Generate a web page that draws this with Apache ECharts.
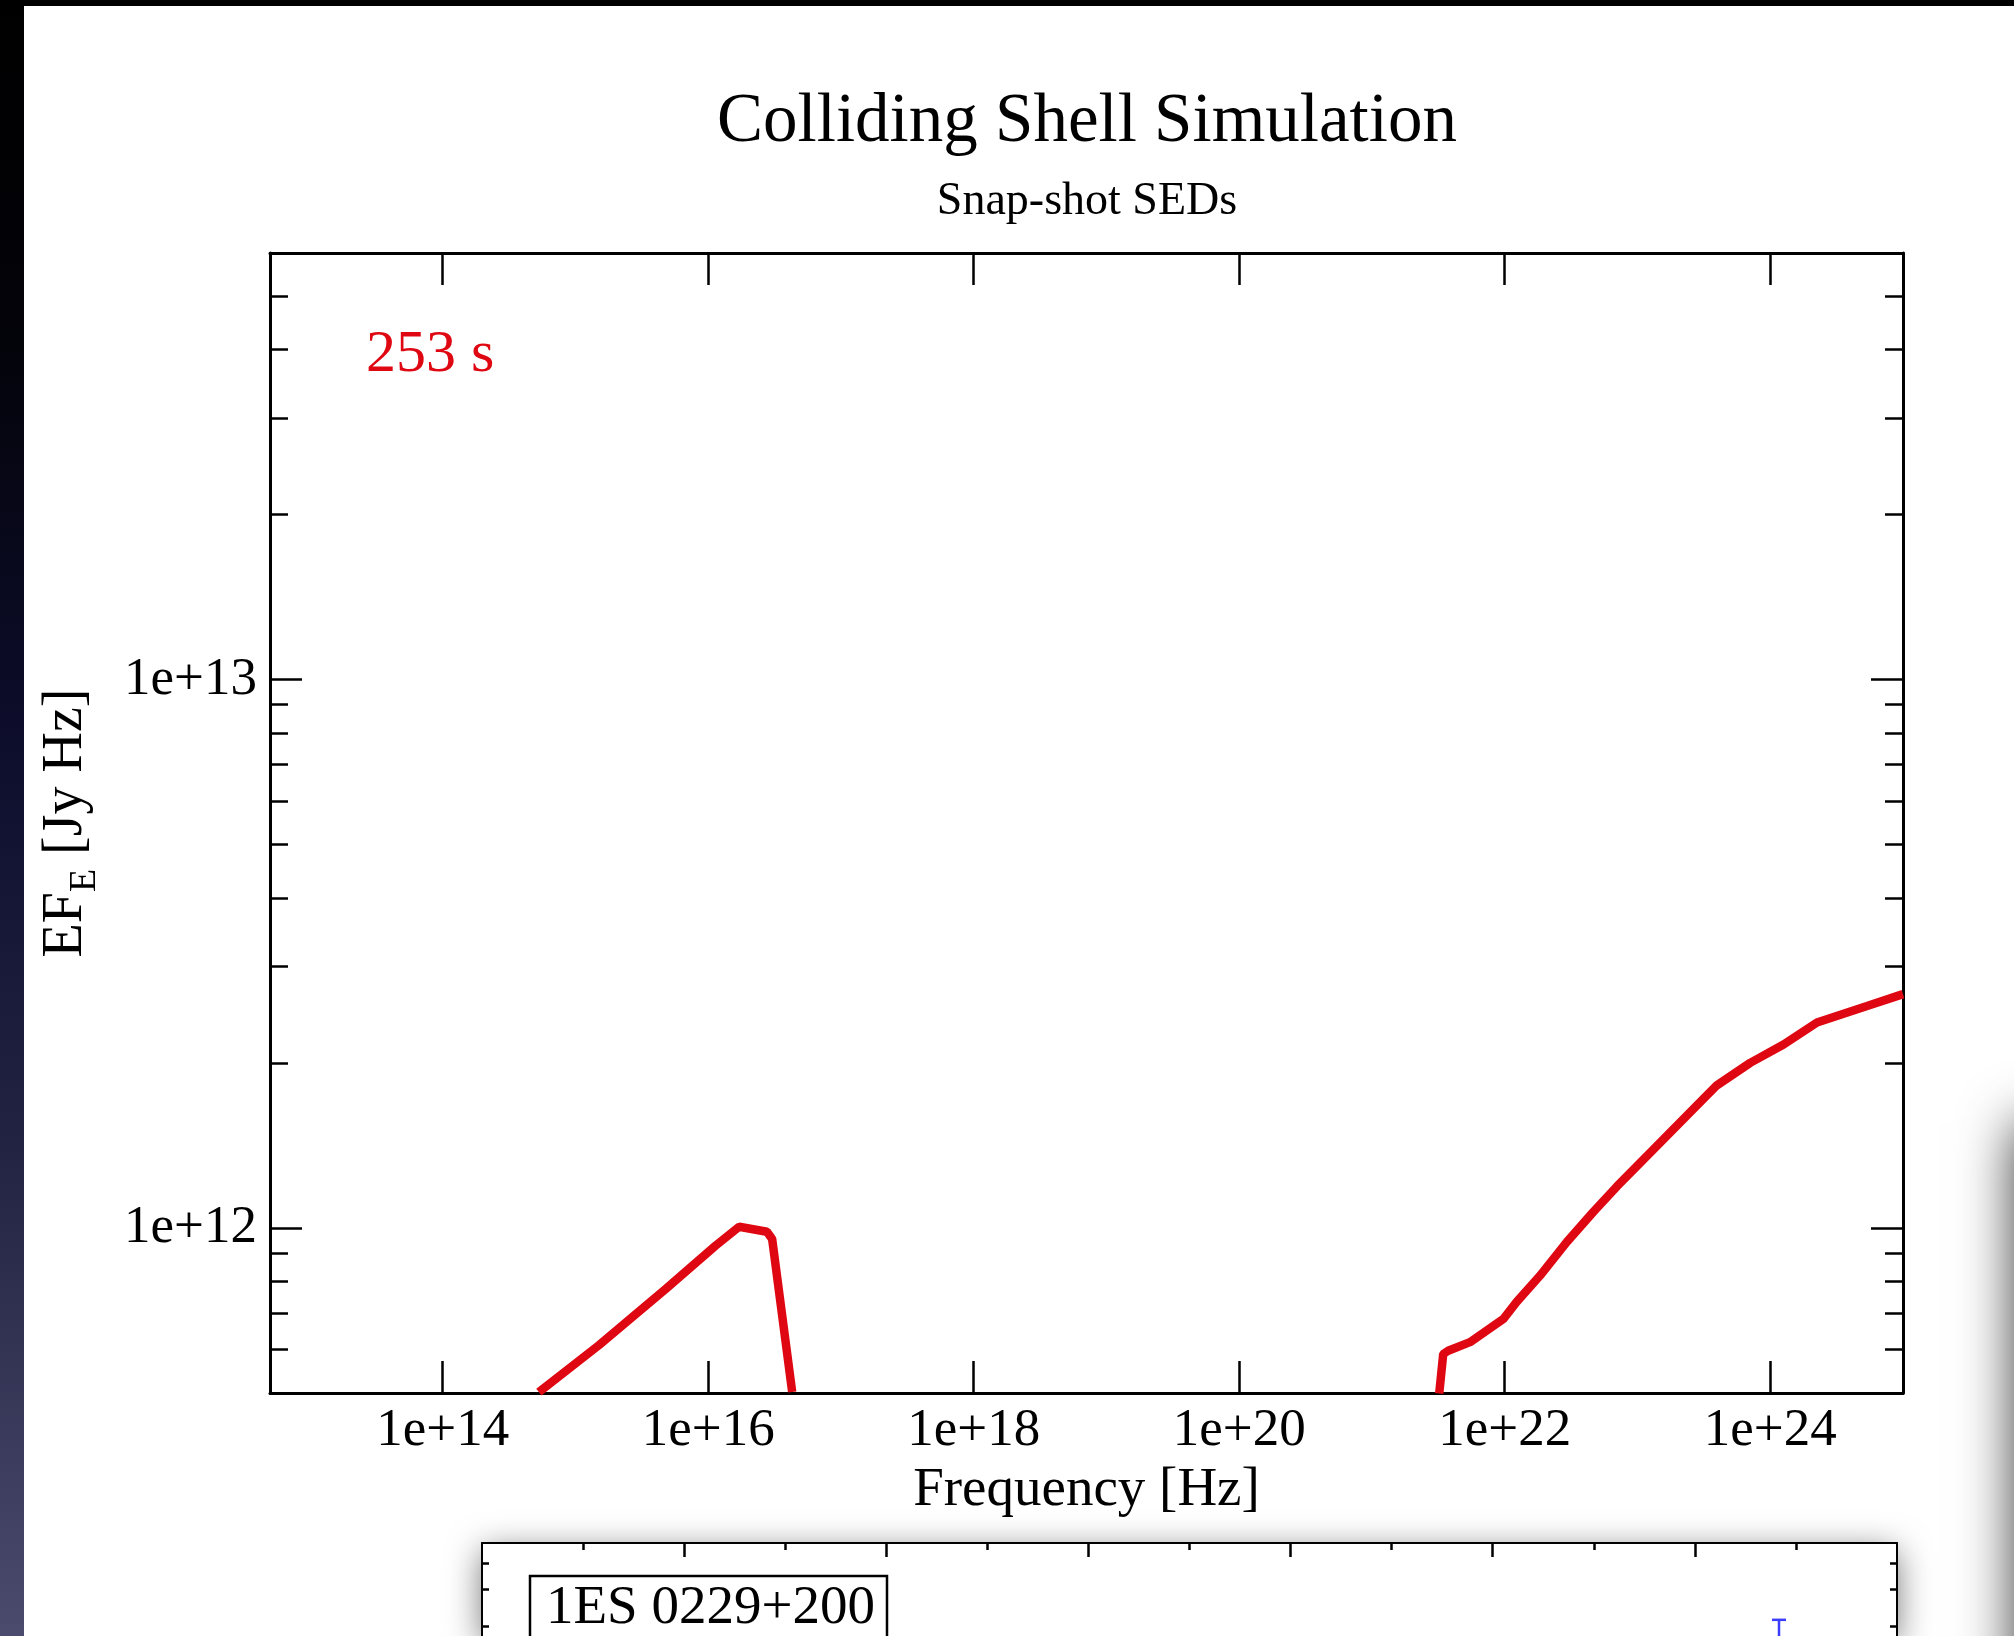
<!DOCTYPE html>
<html>
<head>
<meta charset="utf-8">
<script src="https://cdn.jsdelivr.net/npm/echarts@6/dist/echarts.min.js"></script>
<style>
html,body{margin:0;padding:0;background:#ffffff;}
#c{width:2014px;height:1636px;}
</style>
</head>
<body>
<div id="c"></div>
<script>
// ---- data (frequency in Hz, flux EF_E in Jy Hz) ----
const synFreq = [5.30e14, 1.50e15, 4.78e15, 1.14e16, 1.71e16, 2.77e16, 3.03e16, 4.29e16];
const synFlux = [5.02e11, 6.11e11, 7.74e11, 9.29e11, 1.005e12, 9.84e11, 9.55e11, 5.02e11];
const icFreq = [3.21e21, 3.44e21, 3.75e21, 5.47e21, 9.75e21, 1.23e22, 1.84e22, 2.93e22, 4.65e22, 6.98e22,
                1.24e23, 2.22e23, 3.96e23, 7.06e23, 1.26e24, 2.25e24, 5.36e24, 1.0e25];
const icFlux = [4.99e11, 5.89e11, 5.97e11, 6.19e11, 6.82e11, 7.33e11, 8.18e11, 9.42e11, 1.07e12, 1.19e12,
                1.37e12, 1.58e12, 1.82e12, 2.00e12, 2.16e12, 2.37e12, 2.54e12, 2.67e12];

// axis ranges and ticks (main panel)
const xRange = [5e12, 1e25];
const yRange = [5e11, 6e13];
const xMajor = [1e14, 1e16, 1e18, 1e20, 1e22, 1e24];
const xTickLabels = ['1e+14', '1e+16', '1e+18', '1e+20', '1e+22', '1e+24'];
const yMajor = [1e12, 1e13];
const yTickLabels = ['1e+12', '1e+13'];
const yMinor = [6e11, 7e11, 8e11, 9e11, 2e12, 3e12, 4e12, 5e12, 6e12, 7e12, 8e12, 9e12, 2e13, 3e13, 4e13, 5e13];

// second (partially visible) panel "1ES 0229+200" - only its top strip is in view
const p2xRange = [1e10, 1e24];
const p2xMajor = [1e12, 1e14, 1e16, 1e18, 1e20, 1e22];
const p2xMinor = [1e11, 1e13, 1e15, 1e17, 1e19, 1e21, 1e23];
const p2yRange = [1.79e-11, 5e-11];
const p2yTicks = [4e-11, 3e-11, 2e-11];
const ulFreq = [6.8e22];
const ulHigh = [2.14e-11];
const ulLow = [6.0e-12];

const L = Math.log10;
const FONT = 'Liberation Serif';
const RED = '#df0812';

const toPts = (xs, ys) => xs.map((x, i) => [L(x), L(ys[i])]);
const lbl = (ticks, labels) => v => {
  const i = ticks.findIndex(t => Math.abs(L(t) - v) < 1e-6);
  return i >= 0 ? labels[i] : '';
};

const chart = echarts.init(document.getElementById('c'), null, {renderer: 'canvas'});

const baseAxis = {
  type: 'value',
  splitLine: {show: false},
  axisLine: {show: true, onZero: false, lineStyle: {color: '#000', width: 3}},
  axisLabel: {show: false},
  axisTick: {show: true, inside: true, length: 32, lineStyle: {color: '#000', width: 2.5}}
};
function ax(extra) { return echarts.util.merge(echarts.util.clone(baseAxis), extra, true); }

const option = {
  animation: false,
  backgroundColor: '#ffffff',
  title: [
    {text: 'Colliding Shell Simulation', subtext: 'Snap-shot SEDs', left: 1087, top: 88, textAlign: 'center',
     padding: 0, itemGap: 22,
     textStyle: {fontFamily: FONT, fontSize: 69, fontWeight: 'normal', color: '#000'},
     subtextStyle: {fontFamily: FONT, fontSize: 46, color: '#000'}}
  ],
  grid: [
    {left: 270, top: 253, width: 1633, height: 1140, containLabel: false},
    {left: 482, top: 1543, width: 1415, height: 93, show: true, backgroundColor: '#ffffff', borderWidth: 0,
     shadowBlur: 34, shadowColor: 'rgba(0,0,0,0.55)', shadowOffsetY: 8}
  ],
  xAxis: [
    ax({gridIndex: 0, position: 'bottom', min: L(xRange[0]), max: L(xRange[1]),
        name: 'Frequency [Hz]', nameLocation: 'middle', nameGap: 66,
        nameTextStyle: {fontFamily: FONT, fontSize: 55, color: '#000'},
        axisTick: {customValues: xMajor.map(L)},
        axisLabel: {show: true, customValues: xMajor.map(L), formatter: lbl(xMajor, xTickLabels),
                    margin: 12, fontFamily: FONT, fontSize: 53, color: '#000'}}),
    ax({gridIndex: 0, position: 'top', min: L(xRange[0]), max: L(xRange[1]),
        axisTick: {customValues: xMajor.map(L)}}),
    ax({gridIndex: 1, position: 'top', min: L(p2xRange[0]), max: L(p2xRange[1]),
        axisLine: {lineStyle: {width: 2}},
        axisTick: {customValues: p2xMajor.map(L), length: 14, lineStyle: {width: 2.5}}}),
    ax({gridIndex: 1, position: 'top', min: L(p2xRange[0]), max: L(p2xRange[1]),
        axisLine: {show: false},
        axisTick: {customValues: p2xMinor.map(L), length: 7, lineStyle: {width: 2.5}}})
  ],
  yAxis: [
    ax({gridIndex: 0, position: 'left', min: L(yRange[0]), max: L(yRange[1]),
        name: '{a|EF}{b|E}{a| [Jy Hz]}', nameLocation: 'middle', nameGap: 172,
        nameTextStyle: {rich: {
          a: {fontFamily: FONT, fontSize: 56, color: '#000', lineHeight: 60, verticalAlign: 'top'},
          b: {fontFamily: FONT, fontSize: 38, color: '#000', lineHeight: 40, padding: [28, 0, 0, 0], verticalAlign: 'top'}
        }},
        axisTick: {customValues: yMajor.map(L)},
        axisLabel: {show: true, customValues: yMajor.map(L), formatter: lbl(yMajor, yTickLabels),
                    margin: 13, fontFamily: FONT, fontSize: 53, color: '#000'}}),
    ax({gridIndex: 0, position: 'left', min: L(yRange[0]), max: L(yRange[1]),
        axisLine: {show: false}, axisTick: {customValues: yMinor.map(L), length: 18}}),
    ax({gridIndex: 0, position: 'right', min: L(yRange[0]), max: L(yRange[1]),
        axisTick: {customValues: yMajor.map(L)}}),
    ax({gridIndex: 0, position: 'right', min: L(yRange[0]), max: L(yRange[1]),
        axisLine: {show: false}, axisTick: {customValues: yMinor.map(L), length: 18}}),
    ax({gridIndex: 1, position: 'left', min: L(p2yRange[0]), max: L(p2yRange[1]),
        axisLine: {lineStyle: {width: 2}},
        axisTick: {customValues: p2yTicks.map(L), length: 7, lineStyle: {width: 2.5}}}),
    ax({gridIndex: 1, position: 'right', min: L(p2yRange[0]), max: L(p2yRange[1]),
        axisLine: {lineStyle: {width: 2}},
        axisTick: {customValues: p2yTicks.map(L), length: 7, lineStyle: {width: 2.5}}})
  ],
  graphic: [
    // slide frame: dark strip on the left and thin black strip on top
    {type: 'rect', left: 0, top: 0, z: 100, shape: {width: 24, height: 1636},
     style: {fill: new echarts.graphic.LinearGradient(0, 0, 0, 1, [
       {offset: 0, color: '#000000'}, {offset: 0.2, color: '#030309'}, {offset: 0.45, color: '#0d0d2c'},
       {offset: 0.7, color: '#222243'}, {offset: 1, color: '#4b4b6d'}])}},
    {type: 'rect', left: 0, top: 0, z: 100, shape: {width: 2014, height: 6}, style: {fill: '#000000'}},
    // shadow of a neighbouring panel at the right edge
    {type: 'rect', x: 2016, y: 1124, z: 0, shape: {width: 600, height: 900},
     style: {fill: '#ffffff', shadowBlur: 52, shadowColor: 'rgba(0,0,0,0.8)'}},
    // time stamp of the snapshot
    {type: 'text', x: 366, y: 355, z: 10,
     style: {text: '253 s', fontFamily: FONT, fontSize: 60, fill: RED, textAlign: 'left', textVerticalAlign: 'middle'}},
    // label box in the lower panel
    {type: 'rect', x: 530, y: 1576, z: 10, shape: {width: 357, height: 120},
     style: {fill: '#ffffff', stroke: '#000', lineWidth: 2.5}},
    {type: 'text', x: 546, y: 1609, z: 11,
     style: {text: '1ES 0229+200', fontFamily: FONT, fontSize: 55, fill: '#000', textAlign: 'left', textVerticalAlign: 'middle'}}
  ],
  series: [
    {type: 'line', name: 'synchrotron', xAxisIndex: 0, yAxisIndex: 0, data: toPts(synFreq, synFlux),
     showSymbol: false, clip: true, lineStyle: {color: RED, width: 8.5}, z: 5},
    {type: 'line', name: 'inverse Compton', xAxisIndex: 0, yAxisIndex: 0, data: toPts(icFreq, icFlux),
     showSymbol: false, clip: true, lineStyle: {color: RED, width: 8.5}, z: 5},
    {type: 'custom', name: 'upper limit', xAxisIndex: 2, yAxisIndex: 4,
     data: ulFreq.map((f, i) => [L(f), L(ulHigh[i]), L(ulLow[i])]),
     encode: {x: 0, y: [1, 2]}, z: 12, clip: false,
     renderItem: function (params, api) {
       const top = api.coord([api.value(0), api.value(1)]);
       const bot = api.coord([api.value(0), api.value(2)]);
       const st = {stroke: '#3c3cff', lineWidth: 2.5};
       return {type: 'group', children: [
         {type: 'line', shape: {x1: top[0], y1: top[1], x2: bot[0], y2: bot[1]}, style: st},
         {type: 'line', shape: {x1: top[0] - 7, y1: top[1], x2: top[0] + 7, y2: top[1]}, style: st}
       ]};
     }}
  ]
};
chart.setOption(option);
</script>
</body>
</html>
